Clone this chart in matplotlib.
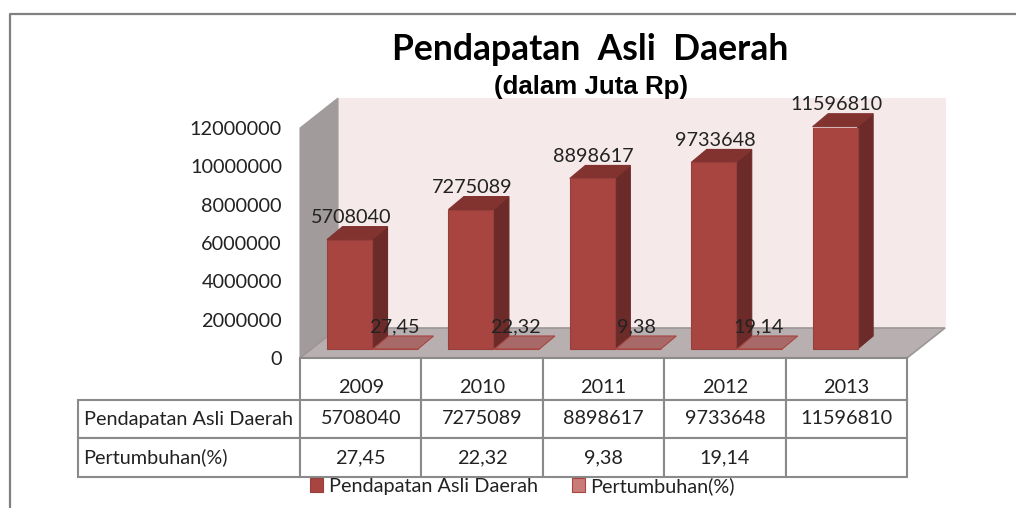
#!/usr/bin/env python3
"""Pendapatan Asli Daerah: Excel-style 3D columns with a data table below."""

import matplotlib
matplotlib.use("Agg")
import matplotlib.pyplot as plt
from matplotlib.lines import Line2D
from matplotlib.patches import Polygon

years = ["2009", "2010", "2011", "2012", "2013"]
pad_values = [5708040, 7275089, 8898617, 9733648, 11596810]
growth_values = [27.45, 22.32, 9.38, 19.14]
y_ticks = [0, 2000000, 4000000, 6000000, 8000000, 10000000, 12000000]
series_names = ["Pendapatan Asli Daerah", "Pertumbuhan(%)"]

W, H = 1016, 508
plt.rcParams["font.family"] = ["Lato", "DejaVu Sans"]
TEXT = "#222222"
GRID = "#8a8a8a"
FS = 14.3

fig = plt.figure(figsize=(W / 100, H / 100), dpi=100, facecolor="white")
# plot box in pixels: x 300..907, y 128..358
ax = fig.add_axes([300 / W, 1 - 358 / H, 607 / W, 230 / H])
ax.set_xlim(0, 5)
ax.set_ylim(0, 12000000)
ax.patch.set_visible(False)
ax.spines[:].set_visible(False)

# pixel sizes converted to data units
px_x = 5 / 607
px_y = 12000000 / 230
wall_dx, wall_dy = 38 * px_x, 30 * px_y
bar_dx, bar_dy = 15.5 * px_x, 13 * px_y
base = 9 * px_y
bar_w = 45 * px_x


def poly(points, color, edge=None, z=1, lw=0.8):
    ax.add_patch(Polygon(points, closed=True, facecolor=color, edgecolor=edge or color,
                         linewidth=lw, zorder=z, clip_on=False))


# walls and floor
poly([(wall_dx, wall_dy), (5 + wall_dx, wall_dy), (5 + wall_dx, 12000000 + wall_dy),
      (wall_dx, 12000000 + wall_dy)], "#f5e9e9", z=1)
poly([(0, 0), (wall_dx, wall_dy), (wall_dx, 12000000 + wall_dy), (0, 12000000)], "#a19b9b", z=2)
poly([(0, 0), (5, 0), (5 + wall_dx, wall_dy), (wall_dx, wall_dy)], "#b8b0b0", edge="#9c9696", z=2, lw=1.2)

# columns
pad_x = [i + 0.408 for i in range(len(years))]
growth_x = [i + 0.787 for i in range(len(growth_values))]

pad_bars = ax.bar(pad_x, pad_values, width=bar_w, bottom=base, color="#a94541",
                  edgecolor="#96403d", linewidth=0.8, zorder=5, label=series_names[0])
for x, v in zip(pad_x, pad_values):
    left, right, top = x - bar_w / 2, x + bar_w / 2, base + v
    poly([(right, base), (right + bar_dx, base + bar_dy), (right + bar_dx, top + bar_dy), (right, top)],
         "#6c2b29", z=4)
    poly([(left, top), (right, top), (right + bar_dx, top + bar_dy), (left + bar_dx, top + bar_dy)],
         "#823330", z=4)
    ax.text(x + 0.01, top + 22 * px_y, str(v), ha="center", va="center", fontsize=FS,
            color=TEXT, zorder=8)

growth_bars = ax.bar(growth_x, growth_values, width=bar_w, bottom=base, color="#c97b79",
                     edgecolor="#a94541", linewidth=0.8, zorder=5, label=series_names[1])
for x, v in zip(growth_x, growth_values):
    left, right, top = x - bar_w / 2, x + bar_w / 2, base + v
    poly([(left, top), (right, top), (right + bar_dx, top + bar_dy), (left + bar_dx, top + bar_dy)],
         "#a86a69", edge="#a94541", z=6)
    ax.text(x - 0.012, top + 22 * px_y, f"{v:.2f}".replace(".", ","), ha="center", va="center",
            fontsize=FS, color=TEXT, zorder=8)

ax.set_xticks([])
ax.set_yticks(y_ticks, [str(t) for t in y_ticks])
ax.tick_params(axis="y", length=0, pad=13, labelsize=FS, labelcolor=TEXT)

# data table
growth_cells = [f"{v:.2f}".replace(".", ",") for v in growth_values] + [""]
cell_text = [
    [""] + years,
    [series_names[0]] + [str(v) for v in pad_values],
    [series_names[1]] + growth_cells,
]
col_w = [222 / 829] + [121.4 / 829] * 5
tbl = ax.table(cellText=cell_text, colWidths=col_w, cellLoc="center",
               bbox=[-222 / 607, -119 / 230, 829 / 607, 119 / 230], zorder=3)
tbl.auto_set_font_size(False)
tbl.set_fontsize(FS)
row_h = [42 / 119, 38 / 119, 39 / 119]
for (r, c), cell in tbl.get_celld().items():
    cell.set_height(row_h[r])
    cell.set_edgecolor(GRID)
    cell.set_linewidth(1.5)
    cell.set_text_props(color=TEXT)
    if r == 0 and c == 0:
        cell.visible_edges = ""
    elif c == 0:
        cell.PAD = 0.025
        cell.set_text_props(ha="left")
    elif r == 0:
        # year labels sit low in their cells
        cell.set_text_props(va="top")

# titles
fig.text(590 / W, 1 - 50 / H, "Pendapatan  Asli  Daerah", ha="center", va="center",
         fontsize=25.6, fontweight="bold", color="black")
fig.text(590.5 / W, 1 - 87 / H, "(dalam Juta Rp)", ha="center", va="center", fontsize=18.6,
         fontweight="bold", family="Liberation Sans", color="black")

# legend
fig.legend(handles=[pad_bars, growth_bars], loc="center", ncol=2, frameon=False,
           bbox_to_anchor=(522.5 / W, 1 - 486 / H), fontsize=FS, labelcolor=TEXT,
           handlelength=0.65, handleheight=0.7, handletextpad=0.3, columnspacing=1.7,
           borderpad=0, labelspacing=0)

# chart frame, open to the right and bottom
fig.add_artist(Line2D([9.5 / W, 9.5 / W, 1], [0, 1 - 13.5 / H, 1 - 13.5 / H],
                      transform=fig.transFigure, color="#808080", linewidth=1.6))

fig.savefig("out.png", dpi=100)
